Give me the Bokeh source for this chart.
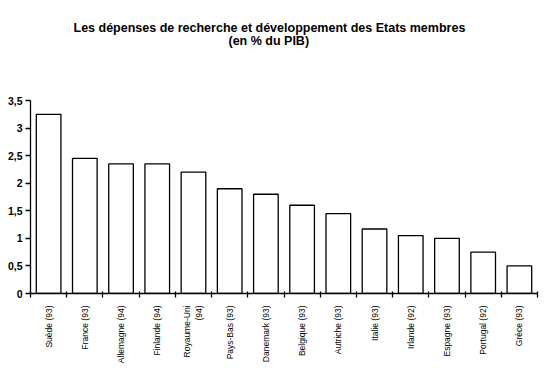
from math import pi
from bokeh.plotting import figure
from bokeh.models import FixedTicker, CustomJSTickFormatter, Title, ColumnDataSource, Range1d
from bokeh.embed import file_html
from bokeh.resources import INLINE

countries = ["Suède (93)", "France (93)", "Allemagne (94)", "Finlande (94)", "Royaume-Uni\n(94)",
             "Pays-Bas (93)", "Danemark (93)", "Belgique (93)", "Autriche (93)", "Italie (93)",
             "Irlande (92)", "Espagne (93)", "Portugal (92)", "Grèce (93)"]
values = [3.25, 2.45, 2.35, 2.35, 2.2, 1.9, 1.8, 1.6, 1.45, 1.17, 1.05, 1.0, 0.75, 0.5]
y_ticks = [0, 0.5, 1, 1.5, 2, 2.5, 3, 3.5]
title_lines = ["Les dépenses de recherche et développement des Etats membres", "(en % du PIB)"]

n = len(countries)
centers = [i + 0.5 for i in range(n)]
bounds = list(range(n + 1))
src = ColumnDataSource(dict(x=centers, top=values, name=countries))

p = figure(width=548, height=368, output_backend="svg", toolbar_location=None,
           x_range=Range1d(0, n), y_range=Range1d(0, 3.5),
           min_border_left=30, min_border_right=11, min_border_top=100, min_border_bottom=75)
p.outline_line_color = None
p.xgrid.visible = False
p.ygrid.visible = False
p.background_fill_color = "white"
p.border_fill_color = "white"

p.vbar(x="x", top="top", width=0.68, source=src, fill_color="white",
       line_color="black", line_width=1.3)

xa = p.xaxis[0]
xa.ticker = FixedTicker(ticks=centers, minor_ticks=bounds)
xa.major_label_overrides = {c: lab for c, lab in zip(centers, countries)}
xa.major_tick_line_color = None
xa.major_tick_out = 4
xa.major_tick_in = 0
xa.minor_tick_in = 2
xa.minor_tick_out = 4
xa.minor_tick_line_color = "black"
xa.minor_tick_line_width = 1.3
xa.axis_line_width = 1.3
xa.major_label_orientation = pi / 2
xa.major_label_standoff = 8
xa.major_label_text_font = "Liberation Sans"
xa.major_label_text_font_size = "8.5px"
xa.major_label_text_color = "black"

ya = p.yaxis[0]
ya.ticker = FixedTicker(ticks=y_ticks)
ya.formatter = CustomJSTickFormatter(code="return tick.toString().replace('.', ',');")
ya.major_tick_out = 5
ya.major_tick_in = 0
ya.minor_tick_line_color = None
ya.axis_line_width = 1.3
ya.major_tick_line_width = 1.3
ya.major_label_standoff = 3
ya.major_label_text_font = "Liberation Sans"
ya.major_label_text_font_style = "bold"
ya.major_label_text_font_size = "10.5px"
ya.major_label_text_color = "black"

# spacer nearest the frame, then line 2, then line 1
p.add_layout(Title(text=" ", standoff=50, text_font_size="1px"), "above")
for txt, off, so in [(title_lines[1], 198, 0), (title_lines[0], 43, -6)]:
    t = Title(text=txt, align="left", offset=off, standoff=so,
              text_font="Liberation Sans", text_font_style="bold",
              text_font_size="12.5px", text_color="black")
    p.add_layout(t, "above")

open("out.html", "w").write(file_html(p, INLINE))
